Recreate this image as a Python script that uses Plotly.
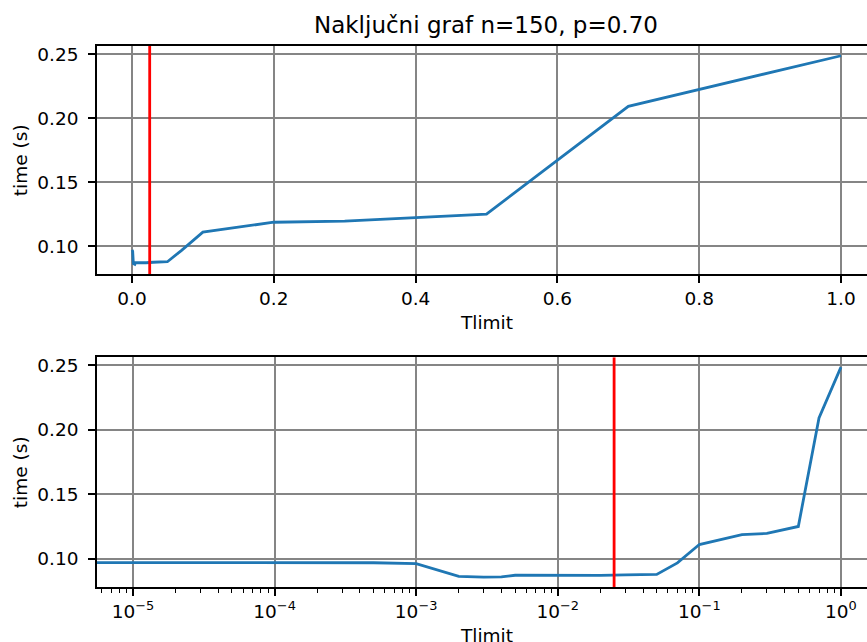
import numpy as np
import plotly.graph_objects as go

# Time limit (s) and measured running time (s)
tlimit = [0, 1e-5, 1e-4, 5e-4, 1e-3, 2e-3, 3e-3, 4e-3, 5e-3, 7e-3,
          1e-2, 2e-2, 3e-2, 5e-2, 7e-2, 0.1, 0.2, 0.3, 0.5, 0.7, 1.0]
time_s = [0.0973, 0.0972, 0.0972, 0.0971, 0.0964, 0.0866, 0.0860, 0.0861,
          0.0874, 0.0874, 0.0869, 0.0873, 0.0877, 0.0881, 0.0970, 0.1112,
          0.1189, 0.1198, 0.1252, 0.2093, 0.2487]

# chosen time limit marked with a red line
t_mark = 0.025

title_text = "Naključni graf n=150, p=0.70"
x_label = "Tlimit"
y_label = "time (s)"

lin_ticks = [0.0, 0.2, 0.4, 0.6, 0.8, 1.0]
log_ticks = [1e-5, 1e-4, 1e-3, 1e-2, 1e-1, 1e0]
log_tick_text = ["10<sup>\u22125</sup>", "10<sup>\u22124</sup>", "10<sup>\u22123</sup>",
                 "10<sup>\u22122</sup>", "10<sup>\u22121</sup>", "10<sup>0</sup>"]
minor_log_ticks = [d * 10.0 ** e for e in range(-6, 1) for d in range(2, 10)]

BLUE = "#1f77b4"
FONT = "DejaVu Sans"
YRANGE = [0.0783, 0.2563]

# zero cannot sit on a log axis: clip it to a tiny positive value
t_arr = np.array(tlimit, dtype=float)
t_log = np.where(t_arr <= 0, 1e-12, t_arr)

fig = go.Figure()
fig.add_trace(go.Scatter(x=tlimit, y=time_s, mode="lines",
                         line=dict(color=BLUE, width=2.8), xaxis="x", yaxis="y"))
fig.add_trace(go.Scatter(x=[t_mark, t_mark], y=YRANGE, mode="lines",
                         line=dict(color="red", width=2.8), xaxis="x", yaxis="y"))
fig.add_trace(go.Scatter(x=t_log, y=time_s, mode="lines",
                         line=dict(color=BLUE, width=2.8), xaxis="x2", yaxis="y2"))
fig.add_trace(go.Scatter(x=[t_mark, t_mark], y=YRANGE, mode="lines",
                         line=dict(color="red", width=2.8), xaxis="x2", yaxis="y2"))

axis_common = dict(
    showline=True, linecolor="black", linewidth=1.5,
    ticks="outside", ticklen=7, tickwidth=1.5, tickcolor="black",
    showgrid=True, gridcolor="#858585", gridwidth=2,
    zeroline=False, tickfont=dict(family=FONT, size=18.5, color="black"),
)

top_dom = [0.578, 1.0]
bot_dom = [0.0, 0.4246]

fig.update_layout(
    width=867, height=642,
    margin=dict(l=97, r=0, t=46, b=55),
    plot_bgcolor="white", paper_bgcolor="white",
    showlegend=False,
    font=dict(family=FONT, color="black"),
    xaxis=dict(axis_common, domain=[0, 1], anchor="y", range=[-0.0493, 1.0366],
               tickmode="array", tickvals=lin_ticks, tickformat=".1f", mirror=True),
    yaxis=dict(axis_common, domain=top_dom, anchor="x", range=YRANGE,
               tickmode="linear", tick0=0, dtick=0.05, tickformat=".2f",
               ticklabelstandoff=6),
    xaxis2=dict(axis_common, domain=[0, 1], anchor="y2", type="log",
                range=[-5.254, 0.184], tickmode="array", tickvals=log_ticks,
                ticktext=log_tick_text, mirror=True,
                minor=dict(ticks="outside", ticklen=4, tickwidth=1, tickcolor="black",
                           showgrid=False, tickmode="array", tickvals=minor_log_ticks)),
    yaxis2=dict(axis_common, domain=bot_dom, anchor="x2", range=YRANGE,
                tickmode="linear", tick0=0, dtick=0.05, tickformat=".2f",
                ticklabelstandoff=6),
)

ann_font = dict(family=FONT, size=18.5, color="black")
fig.add_annotation(text=title_text, xref="paper", yref="paper", x=0.5052, y=1,
                   xanchor="center", yanchor="bottom", yshift=6, showarrow=False,
                   font=dict(family=FONT, size=23, color="black"))
for dom in (top_dom, bot_dom):
    fig.add_annotation(text=y_label, xref="paper", yref="paper", x=0,
                       y=(dom[0] + dom[1]) / 2, xanchor="center", yanchor="middle",
                       xshift=-77, textangle=-90, showarrow=False, font=ann_font)
    fig.add_annotation(text=x_label, xref="paper", yref="paper", x=0.5052, y=dom[0],
                       xanchor="center", yanchor="top", yshift=-36, showarrow=False,
                       font=ann_font)

fig.write_html("out.html")
